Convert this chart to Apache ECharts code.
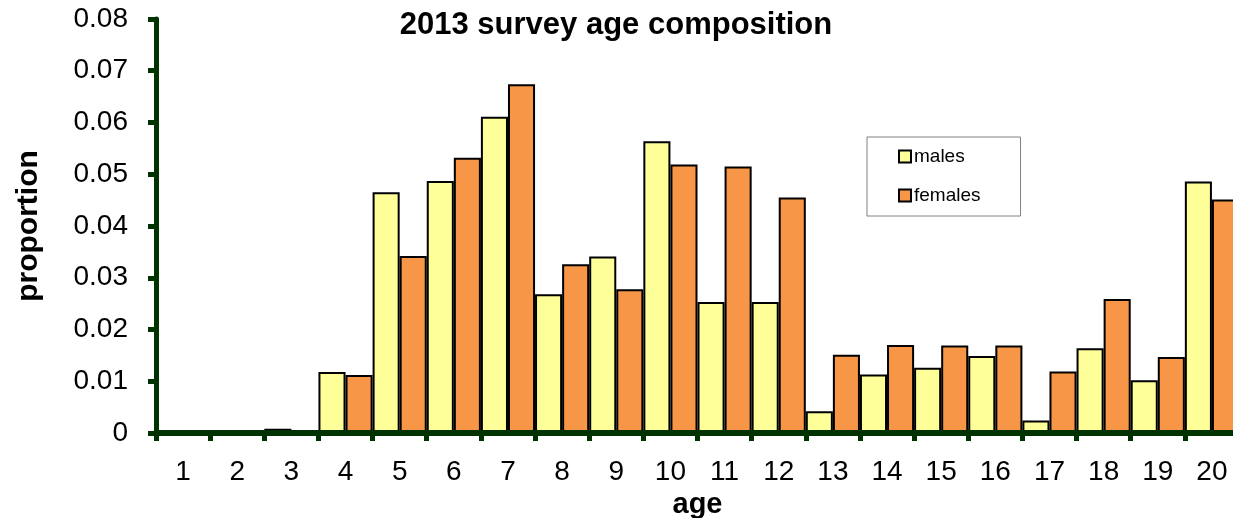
<!DOCTYPE html>
<html>
<head>
<meta charset="utf-8">
<script src="https://cdn.jsdelivr.net/npm/echarts@6/dist/echarts.min.js"></script>
<style>
html,body{margin:0;padding:0;background:#fff;}
#chart{width:1233px;height:518px;}
</style>
</head>
<body>
<div id="chart"></div>
<script>
const ages = ['1','2','3','4','5','6','7','8','9','10','11','12','13','14','15','16','17','18','19','20'];
const males = [0, 0, 0.0008, 0.0118, 0.0465, 0.0487, 0.0611, 0.0268, 0.0341, 0.0564, 0.0253, 0.0253, 0.0042, 0.0113, 0.0126, 0.0149, 0.0024, 0.0164, 0.0102, 0.0486];
const females = [0, 0, 0, 0.0112, 0.0342, 0.0532, 0.0674, 0.0326, 0.0278, 0.0519, 0.0515, 0.0455, 0.0151, 0.0170, 0.0169, 0.0169, 0.0119, 0.0259, 0.0147, 0.0451];
const yTicks = {min: 0, max: 0.08, interval: 0.01};

const FONT = '"Liberation Sans", Arial, sans-serif';
const AXIS = '#003300';
const chart = echarts.init(document.getElementById('chart'));
chart.setOption({
  animation: false,
  backgroundColor: '#ffffff',
  title: {
    text: '2013 survey age composition',
    left: 611, top: 5, textAlign: 'center',
    textStyle: {fontFamily: FONT, fontSize: 31, fontWeight: 'bold', color: '#000'}
  },
  legend: {
    orient: 'vertical',
    left: 867, top: 137,
    padding: [10, 40, 11, 31],
    itemWidth: 12, itemHeight: 12, itemGap: 20,
    icon: 'rect',
    backgroundColor: '#fff',
    borderColor: '#808080', borderWidth: 1, borderRadius: 0,
    textStyle: {fontFamily: FONT, fontSize: 19, lineHeight: 19, color: '#000', padding: [0,0,0,-2]},
    data: ['males', 'females']
  },
  grid: {left: 156, right: -6, top: 19, bottom: 85, containLabel: false, outerBoundsMode: 'none'},
  xAxis: {
    type: 'category',
    data: ages,
    z: 5,
    name: 'age',
    nameLocation: 'middle',
    nameGap: 56,
    nameTextStyle: {fontFamily: FONT, fontSize: 29, fontWeight: 'bold', color: '#000'},
    axisLine: {show: true, lineStyle: {color: AXIS, width: 6}},
    axisTick: {show: true, length: 8, lineStyle: {color: AXIS, width: 5}},
    axisLabel: {fontFamily: FONT, fontSize: 28, color: '#000', margin: 25},
    splitLine: {show: false}
  },
  yAxis: {
    type: 'value',
    min: yTicks.min, max: yTicks.max, interval: yTicks.interval,
    z: 5,
    name: 'proportion',
    nameLocation: 'middle',
    nameGap: 112,
    nameRotate: 90,
    nameTextStyle: {fontFamily: FONT, fontSize: 30, fontWeight: 'bold', color: '#000'},
    axisLine: {show: true, lineStyle: {color: AXIS, width: 5}},
    axisTick: {show: true, length: 8, lineStyle: {color: AXIS, width: 5}},
    axisLabel: {
      fontFamily: FONT, fontSize: 28, color: '#000', margin: 28,
      formatter: v => v === 0 ? '0' : v.toFixed(2)
    },
    splitLine: {show: false}
  },
  series: [
    {
      name: 'males', type: 'bar', data: males,
      barGap: '0%', barCategoryGap: '0%',
      itemStyle: {color: '#FFFF99', borderColor: '#000', borderWidth: 2}
    },
    {
      name: 'females', type: 'bar', data: females,
      barGap: '0%', barCategoryGap: '0%',
      itemStyle: {color: '#F79646', borderColor: '#000', borderWidth: 2}
    }
  ]
});
</script>
</body>
</html>
